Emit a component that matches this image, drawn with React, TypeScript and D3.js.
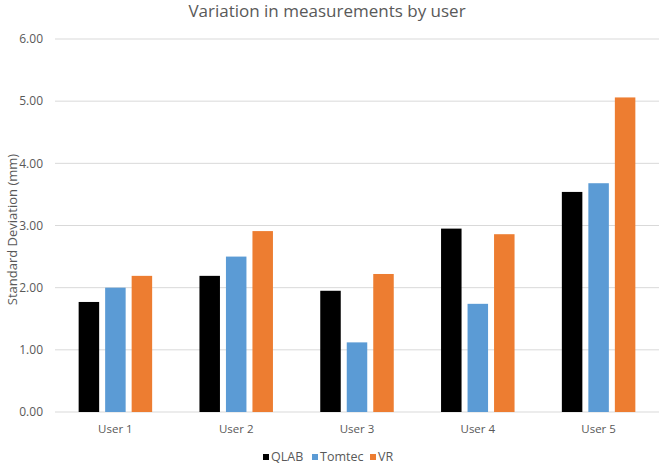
import { useEffect } from "react";
import * as d3 from "d3";

const users = ["User 1", "User 2", "User 3", "User 4", "User 5"];
const seriesNames = ["QLAB", "Tomtec", "VR"];
const qlab = [1.77, 2.19, 1.95, 2.95, 3.54];
const tomtec = [2.0, 2.5, 1.12, 1.74, 3.68];
const vr = [2.19, 2.91, 2.22, 2.86, 5.06];
const yTicks = [0, 1, 2, 3, 4, 5, 6];

const colors = ["#000000", "#5b9bd5", "#ed7d31"];
const FONT = "'Open Sans', sans-serif";

export default function App() {
  useEffect(() => {
    document.body.style.margin = "0";
  }, []);

  const width = 660;
  const height = 465;
  const margin = { top: 39, right: 1, bottom: 53, left: 55 };
  const innerW = width - margin.left - margin.right;
  const innerH = height - margin.top - margin.bottom;

  const x = d3.scaleBand().domain(users).range([0, innerW]);
  const barW = 20.5;
  const gap = 6;
  const groupW = barW * 3 + gap * 2;
  const y = d3.scaleLinear().domain([0, 6]).range([innerH, 0]);

  const values = [qlab, tomtec, vr];

  // legend marker positions
  const legendX = [263, 312, 370];

  return (
    <svg width={width} height={height} style={{ display: "block", background: "#fff" }}>
      <text
        x={327}
        y={17}
        textAnchor="middle"
        fontFamily={FONT}
        fontSize={17}
        fill="#595959"
      >
        Variation in measurements by user
      </text>
      <g transform={`translate(${margin.left},${margin.top})`}>
        {yTicks.map((t) => (
          <g key={t}>
            <line x1={0} x2={innerW} y1={y(t)} y2={y(t)} stroke="#d9d9d9" strokeWidth={1} />
            <text
              x={-12}
              y={y(t)}
              dy="0.35em"
              textAnchor="end"
              fontFamily={FONT}
              fontSize={12}
              fill="#595959"
            >
              {t.toFixed(2)}
            </text>
          </g>
        ))}
        {users.map((u, i) => {
          const cx = x(u)! + x.bandwidth() / 2;
          return (
            <g key={u}>
              {values.map((vals, s) => (
                <rect
                  key={s}
                  x={cx - groupW / 2 + s * (barW + gap)}
                  y={y(vals[i])}
                  width={barW}
                  height={innerH - y(vals[i])}
                  fill={colors[s]}
                />
              ))}
              <text
                x={cx}
                y={innerH + 17}
                dy="0.35em"
                textAnchor="middle"
                fontFamily={FONT}
                fontSize={11.5}
                fill="#595959"
              >
                {u}
              </text>
            </g>
          );
        })}
      </g>
      <text
        transform={`translate(12,${margin.top + innerH / 2 + 4}) rotate(-90)`}
        textAnchor="middle"
        dy="0.35em"
        fontFamily={FONT}
        fontSize={13}
        fill="#595959"
      >
        Standard Deviation (mm)
      </text>
      <g transform="translate(0,457)">
        {seriesNames.map((name, i) => (
          <g key={name} transform={`translate(${legendX[i]},0)`}>
            <rect x={0} y={-3} width={6} height={6} fill={colors[i]} />
            <text x={8} y={0} dy="0.35em" fontFamily={FONT} fontSize={12.5} fill="#595959">
              {name}
            </text>
          </g>
        ))}
      </g>
    </svg>
  );
}
